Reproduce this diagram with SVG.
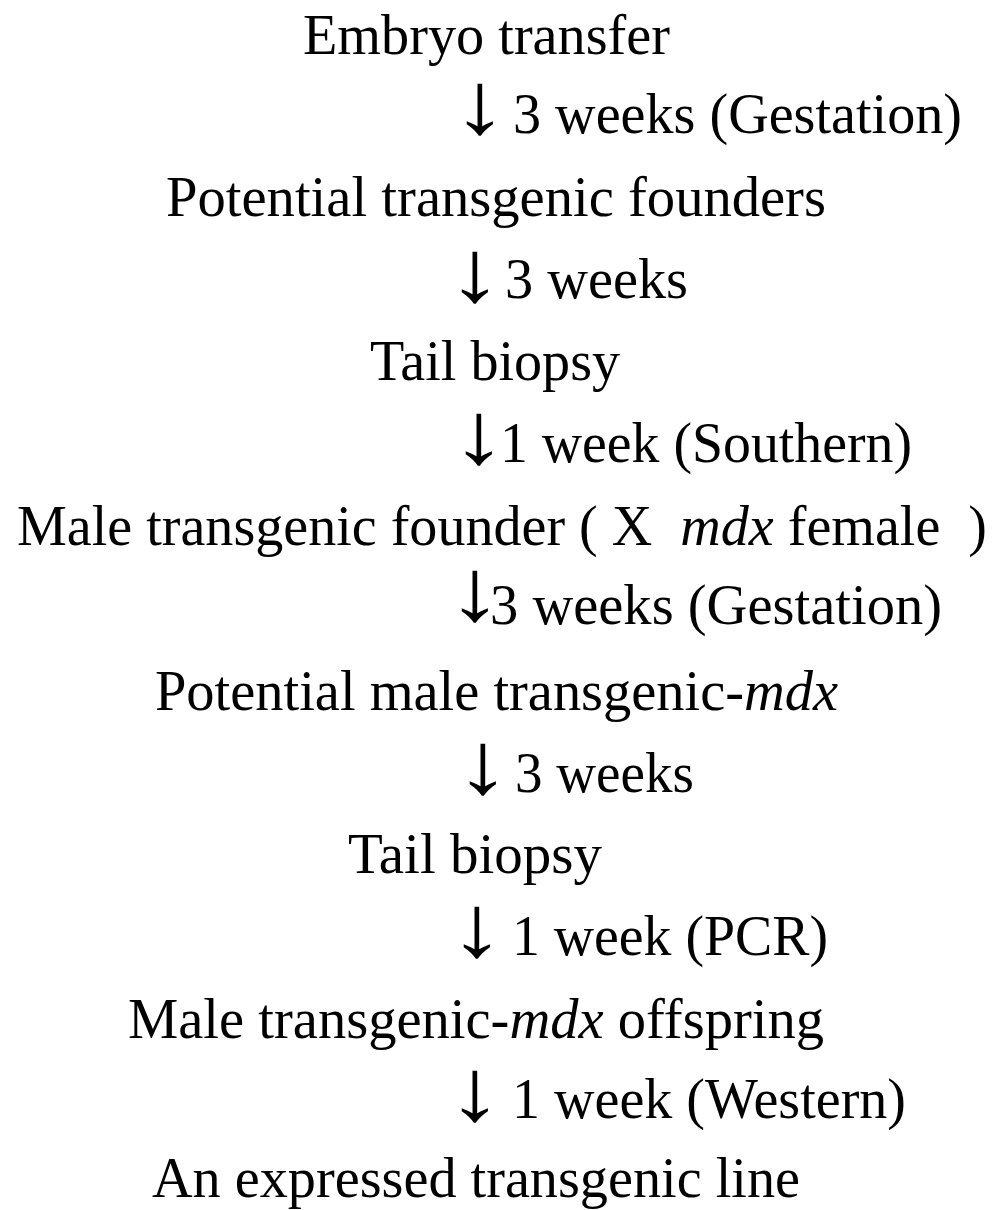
<svg xmlns="http://www.w3.org/2000/svg" width="993" height="1210" viewBox="0 0 993 1210">
<style>
text{font-family:"Liberation Serif","Times New Roman",serif;font-size:56px;fill:#000;white-space:pre}
.i{font-style:italic}
text.a{font-size:88px}
</style>
<rect width="993" height="1210" fill="#fff"/>
<g id="step1"><text x="303" y="54" textLength="367" lengthAdjust="spacingAndGlyphs">Embryo transfer</text></g>
<g id="connectors">
<text class="a" transform="translate(452,133) scale(1.27,1)">↓</text><text x="513" y="133" textLength="449" lengthAdjust="spacingAndGlyphs">3 weeks (Gestation)</text>
<text class="a" transform="translate(447,301) scale(1.27,1)">↓</text><text x="505" y="298" textLength="183" lengthAdjust="spacingAndGlyphs">3 weeks</text>
<text class="a" transform="translate(451,463) scale(1.27,1)">↓</text><text x="500" y="462" textLength="412" lengthAdjust="spacingAndGlyphs">1 week (Southern)</text>
<text class="a" transform="translate(447,620) scale(1.27,1)">↓</text><text x="490" y="624" textLength="452" lengthAdjust="spacingAndGlyphs">3 weeks (Gestation)</text>
<text class="a" transform="translate(455,793) scale(1.27,1)">↓</text><text x="515" y="792" textLength="179" lengthAdjust="spacingAndGlyphs">3 weeks</text>
<text class="a" transform="translate(449,956) scale(1.27,1)">↓</text><text x="512" y="955" textLength="316" lengthAdjust="spacingAndGlyphs">1 week (PCR)</text>
<text class="a" transform="translate(447,1120) scale(1.27,1)">↓</text><text x="512" y="1118" textLength="394" lengthAdjust="spacingAndGlyphs">1 week (Western)</text>
</g>
<g id="step2"><text x="166" y="216" textLength="660" lengthAdjust="spacingAndGlyphs">Potential transgenic founders</text></g>
<g id="step3"><text x="370" y="380" textLength="250" lengthAdjust="spacingAndGlyphs">Tail biopsy</text></g>
<g id="step4"><text x="17" y="545" textLength="970" lengthAdjust="spacingAndGlyphs">Male transgenic founder ( X  <tspan class="i">mdx</tspan> female  )</text></g>
<g id="step5"><text x="155" y="710" textLength="683" lengthAdjust="spacingAndGlyphs">Potential male transgenic-<tspan class="i">mdx</tspan></text></g>
<g id="step6"><text x="348" y="873" textLength="254" lengthAdjust="spacingAndGlyphs">Tail biopsy</text></g>
<g id="step7"><text x="128" y="1038" textLength="696" lengthAdjust="spacingAndGlyphs">Male transgenic-<tspan class="i">mdx</tspan> offspring</text></g>
<g id="step8"><text x="152" y="1197" textLength="648" lengthAdjust="spacingAndGlyphs">An expressed transgenic line</text></g>
</svg>
